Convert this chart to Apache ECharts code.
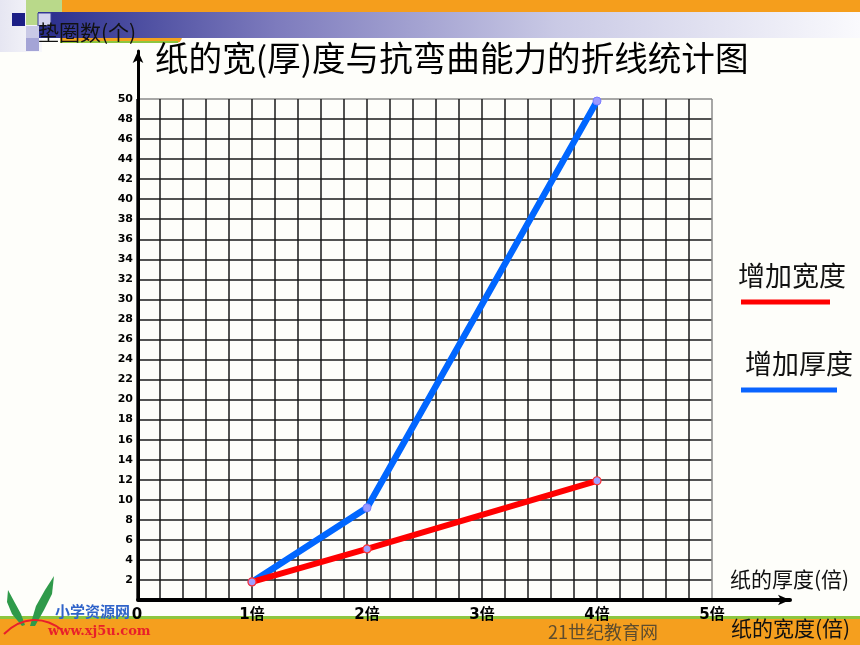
<!DOCTYPE html>
<html>
<head>
<meta charset="utf-8">
<script src="https://cdn.jsdelivr.net/npm/echarts@6/dist/echarts.min.js"></script>
<style>
html,body{margin:0;padding:0;background:#fefefa;}
#chart{width:860px;height:645px;}
</style>
</head>
<body>
<div id="chart"></div>
<script>
// ---- data ----
const xValues = [1, 2, 4];
const widthValues = [1.8, 5.1, 11.9];       // 增加宽度
const thicknessValues = [1.8, 9.2, 49.8];   // 增加厚度
const xTickLabels = ['0', '1倍', '2倍', '3倍', '4倍', '5倍'];
const seriesNames = ['增加宽度', '增加厚度'];
const titleText = '纸的宽(厚)度与抗弯曲能力的折线统计图';
const yAxisTitle = '垫圈数(个)';
const xAxisTitle1 = '纸的厚度(倍)';
const xAxisTitle2 = '纸的宽度(倍)';

const CJK = '"Noto Sans CJK SC", "Noto Sans", sans-serif';
const LAT = '"DejaVu Sans", "Noto Sans CJK SC", sans-serif';

const dark = '#1a1a1a';
const gray = '#8a8a8a';
const ySplitColors = [];
for (let v = 0; v <= 50; v += 2) ySplitColors.push(v === 50 ? gray : dark);
const xSplitColors = [dark, dark, dark, dark, dark, gray];

function txt(text, x, y, size, color, weight, family, z) {
  return {
    type: 'text', z: z === undefined ? 100 : z,
    style: {
      text: text, x: x, y: y,
      font: (weight || 'normal') + ' ' + size + 'px ' + (family || CJK),
      fill: color || '#000',
      align: 'left', verticalAlign: 'middle',
      textAlign: 'left', textVerticalAlign: 'middle'
    }
  };
}

const chart = echarts.init(document.getElementById('chart'), null, {renderer: 'canvas'});
const option = {
  backgroundColor: '#fefefa',
  animation: false,
  grid: [
    {left: 137, right: 148, top: 99, bottom: 45},
    {left: 138, right: 70, top: 51, bottom: 45}
  ],
  xAxis: [
    {
      gridIndex: 0, type: 'value', min: 0, max: 5, interval: 1,
      axisLine: {show: false}, axisTick: {show: false},
      axisLabel: {
        formatter: function (v) { return xTickLabels[Math.round(v)]; },
        fontWeight: 'bold', fontSize: 15, color: '#000', margin: 8,
        fontFamily: LAT
      },
      splitLine: {show: true, lineStyle: {color: xSplitColors, width: 1.5}},
      minorTick: {show: false, splitNumber: 5},
      minorSplitLine: {show: true, lineStyle: {color: dark, width: 1.5}}
    },
    {
      gridIndex: 1, type: 'value', min: 0, max: 1,
      axisLine: {show: true, onZero: false, symbol: ['none', 'arrow'], symbolSize: [8, 12],
        lineStyle: {color: '#000', width: 4}},
      axisTick: {show: false}, axisLabel: {show: false}, splitLine: {show: false}
    }
  ],
  yAxis: [
    {
      gridIndex: 0, type: 'value', min: 0, max: 50, interval: 2,
      axisLine: {show: false}, axisTick: {show: false},
      axisLabel: {
        formatter: function (v) { return v === 0 ? '' : String(v); },
        fontWeight: 'bold', fontSize: 11, color: '#000', margin: 4,
        fontFamily: LAT
      },
      splitLine: {show: true, lineStyle: {color: ySplitColors, width: 1.5}}
    },
    {
      gridIndex: 1, type: 'value', min: 0, max: 1,
      axisLine: {show: true, onZero: false, symbol: ['none', 'arrow'], symbolSize: [8, 12],
        lineStyle: {color: '#000', width: 3}},
      axisTick: {show: false}, axisLabel: {show: false}, splitLine: {show: false}
    }
  ],
  series: [
    {
      name: seriesNames[1], type: 'line', xAxisIndex: 0, yAxisIndex: 0,
      data: xValues.map(function (x, i) { return [x, thicknessValues[i]]; }),
      lineStyle: {color: '#0066ff', width: 6.5},
      symbol: 'circle', symbolSize: 8,
      itemStyle: {color: '#9a9aff', borderColor: '#7b7bff', borderWidth: 1},
      z: 3, silent: true
    },
    {
      name: seriesNames[0], type: 'line', xAxisIndex: 0, yAxisIndex: 0,
      data: xValues.map(function (x, i) { return [x, widthValues[i]]; }),
      lineStyle: {color: '#ff0000', width: 6},
      symbol: 'circle', symbolSize: 8,
      itemStyle: {color: '#a0a0ff', borderColor: '#ff3030', borderWidth: 1.2},
      z: 4, silent: true
    }
  ],
  graphic: {
    elements: [
      // header decoration
      {type: 'rect', z: -10, shape: {x: 0, y: 0, width: 42, height: 52},
        style: {fill: new echarts.graphic.LinearGradient(0, 0, 1, 0, [
          {offset: 0, color: '#e6e6f2'}, {offset: 1, color: '#f7f7fb'}])}},
      {type: 'rect', z: -10, shape: {x: 62, y: 0, width: 798, height: 12}, style: {fill: '#f59e1c'}},
      {type: 'rect', z: -10, shape: {x: 26, y: 0, width: 36, height: 25}, style: {fill: '#b9d98a'}},
      {type: 'rect', z: -9, shape: {x: 60, y: 36, width: 122, height: 7, r: [0, 0, 6, 0]}, style: {fill: '#f3a21d'}},
      {type: 'rect', z: -9, shape: {x: 60, y: 41, width: 118, height: 2}, style: {fill: '#8dc63f'}},
      {type: 'rect', z: -8, shape: {x: 38, y: 12, width: 822, height: 26},
        style: {fill: new echarts.graphic.LinearGradient(0, 0, 1, 0, [
          {offset: 0, color: '#292d8c'}, {offset: 0.29, color: '#7d7bbd'},
          {offset: 0.63, color: '#c9c9e5'}, {offset: 1, color: '#fafafd'}])}},
      {type: 'rect', z: -7, shape: {x: 12, y: 13, width: 13, height: 13}, style: {fill: '#1c1f86'}},
      {type: 'rect', z: -7, shape: {x: 38, y: 13, width: 13, height: 13}, style: {fill: '#d4d4ee', stroke: '#3b3e9a', lineWidth: 1}},
      {type: 'rect', z: -7, shape: {x: 26, y: 26, width: 13, height: 12}, style: {fill: '#c9c9e6'}},
      {type: 'rect', z: -7, shape: {x: 26, y: 38, width: 13, height: 13}, style: {fill: '#a4a4d6'}},
      // footer decoration
      {type: 'rect', z: -10, shape: {x: 0, y: 616, width: 860, height: 3}, style: {fill: '#8dc63f'}},
      {type: 'rect', z: -10, shape: {x: 0, y: 619, width: 860, height: 26}, style: {fill: '#f59f1e'}},
      {type: 'polygon', z: -6, shape: {points: [[22, 626], [12, 614], [7, 602], [8, 590], [15, 603], [21, 614], [25, 625]]}, style: {fill: '#2f9a4a'}},
      {type: 'polygon', z: -6, shape: {points: [[30, 626], [36, 606], [45, 590], [54, 576], [52, 594], [44, 610], [35, 626]]}, style: {fill: '#2f9a4a'}},
      {type: 'bezierCurve', z: -6, shape: {x1: 4, y1: 634, cpx1: 22, cpy1: 616, cpx2: 44, cpy2: 616, x2: 62, y2: 630}, style: {fill: null, stroke: '#e8202a', lineWidth: 2}},
      txt('小学资源网', 55, 611, 15, '#2f63c9', 'bold', CJK, -5),
      txt('www.xj5u.com', 48, 632, 13, '#e8202a', 'bold', '"DejaVu Serif", serif', -5),
      txt('21世纪教育网', 548, 632, 18, '#5e4c2e', 'normal', CJK, -5),
      // titles
      txt(titleText, 155, 58, 33.6, '#000'),
      txt(yAxisTitle, 38, 32, 21, '#111'),
      txt(xAxisTitle1, 730, 579, 21, '#111'),
      txt(xAxisTitle2, 731, 628, 21, '#111'),
      // legend
      txt(seriesNames[0], 738, 276, 27, '#111'),
      {type: 'line', z: 100, shape: {x1: 741, y1: 302, x2: 830, y2: 302}, style: {stroke: '#ff0000', lineWidth: 5}},
      txt(seriesNames[1], 745, 364, 27, '#111'),
      {type: 'line', z: 100, shape: {x1: 741, y1: 390, x2: 837, y2: 390}, style: {stroke: '#0a64ff', lineWidth: 5}}
    ]
  }
};
chart.setOption(option);
</script>
</body>
</html>
